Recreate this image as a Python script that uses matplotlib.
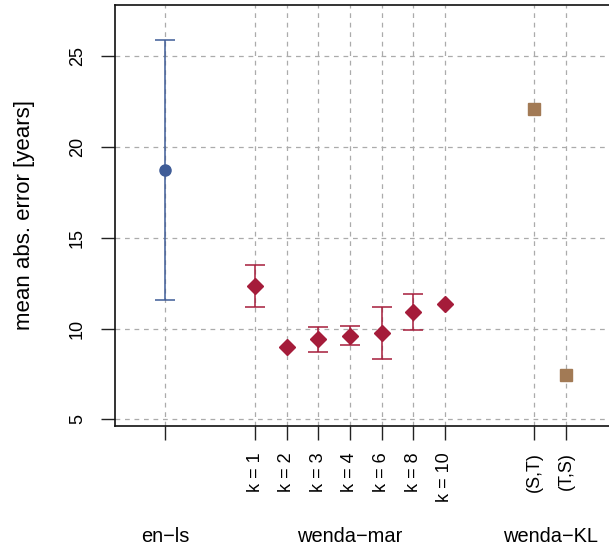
import matplotlib
matplotlib.use("Agg")
import matplotlib.pyplot as plt
import matplotlib.transforms as mtransforms

plt.rcParams['font.family'] = ['Liberation Sans', 'DejaVu Sans']

# Baseline method
enls_x = [0.0]
enls_mean = [18.74]
enls_err = [7.18]

# wenda-mar for different k
mar_x = [2.85, 3.85, 4.85, 5.85, 6.85, 7.85, 8.85]
mar_labels = ["k = 1", "k = 2", "k = 3", "k = 4", "k = 6", "k = 8", "k = 10"]
mar_mean = [12.35, 8.97, 9.41, 9.61, 9.77, 10.93, 11.34]
mar_err = [1.16, 0.0, 0.69, 0.51, 1.43, 0.99, 0.0]

# wenda-KL, both directions
kl_x = [11.68, 12.68]
kl_labels = ["(S,T)", "(T,S)"]
kl_mean = [22.08, 7.42]

groups = ["en\u2212ls", "wenda\u2212mar", "wenda\u2212KL"]
group_x = [0.0, 5.85, 12.18]

y_ticks = [5, 10, 15, 20, 25]

blue = "#3F5C97"
red = "#A51C3A"
brown = "#A27A55"

fig = plt.figure(figsize=(6.09, 5.5), dpi=100)
ax = fig.add_axes([115 / 609, 1 - 426 / 550, 1 - 115 / 609, (426 - 4.5) / 550])

grid_kw = dict(color="#ABABAB", lw=0.9, linestyle=(0, (3.8, 3.8)), zorder=0)
for yv in y_ticks:
    ax.axhline(yv, **grid_kw)
for xv in enls_x + mar_x + kl_x:
    ax.axvline(xv, **grid_kw)

bar_kw = dict(elinewidth=1.1, capsize=7, capthick=1.1, zorder=3)
ax.errorbar(enls_x, enls_mean, yerr=enls_err, fmt="o", color=blue, ms=8, **bar_kw)

# only draw whiskers where a spread is given
mar_bx = [x for x, e in zip(mar_x, mar_err) if e > 0]
mar_by = [m for m, e in zip(mar_mean, mar_err) if e > 0]
mar_be = [e for e in mar_err if e > 0]
ax.errorbar(mar_bx, mar_by, yerr=mar_be, fmt="none", ecolor=red, **bar_kw)
ax.plot(mar_x, mar_mean, "D", color=red, ms=7.8, zorder=4)

ax.plot(kl_x, kl_mean, "s", color=brown, ms=8, zorder=3)

ax.set_xlim(-1.581, 14.04)
ax.set_ylim(4.63, 27.85)

ax.set_yticks(y_ticks)
ax.set_yticklabels([str(v) for v in y_ticks], rotation=90, va="center", fontsize=13)
ax.set_xticks(enls_x + mar_x + kl_x)
ax.set_xticklabels([""] + mar_labels + kl_labels, rotation=90, va="top", fontsize=13)

ax.tick_params(axis="both", direction="out", length=10, width=1.0, color="#222222")
ax.tick_params(axis="x", pad=9)
ax.tick_params(axis="y", pad=11)

for side in ["left", "bottom", "top"]:
    ax.spines[side].set_linewidth(1.2)
    ax.spines[side].set_color("#111111")
ax.spines["right"].set_visible(False)

trans = mtransforms.blended_transform_factory(ax.transData, fig.transFigure)
for gx, g in zip(group_x, groups):
    fig.text(gx, 1 - 542 / 550, g, transform=trans, ha="center", va="baseline", fontsize=14.4)

fig.text(25 / 609, 1 - 215.5 / 550, "mean abs. error [years]", rotation=90,
         ha="center", va="center", fontsize=16)

fig.savefig("out.png", dpi=100)
